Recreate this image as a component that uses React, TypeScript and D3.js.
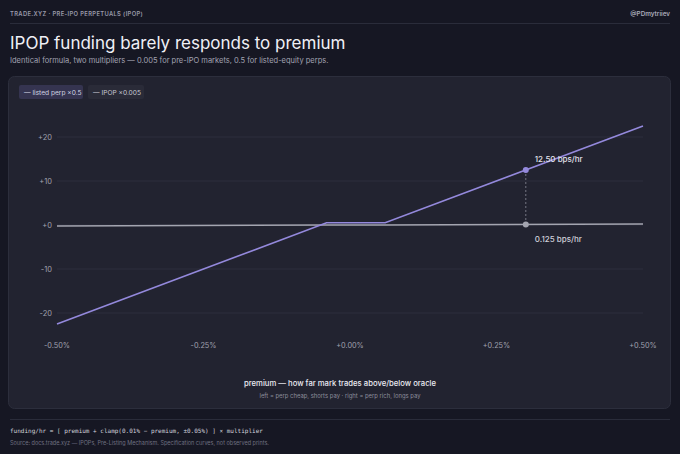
import * as d3 from "d3";

// premium in %, funding in bps/hr
const premium = [-0.5, -0.04, 0.06, 0.5];
const listedFunding = [-22.5, 0.5, 0.5, 22.5];
const ipopFunding = [-0.225, 0.005, 0.005, 0.225];

const xTicks = [-0.5, -0.25, 0, 0.25, 0.5];
const yTicks = [20, 10, 0, -10, -20];

const markerPremium = 0.3;
const markerListed = 12.5;
const markerIpop = 0.125;

const legendItems = ["listed perp ×0.5", "IPOP ×0.005"];

const W = 680;
const H = 454;
const font = "Inter, 'Noto Sans', sans-serif";
const purple = "#9489dc";
const grey = "#a4a5b0";

export default function App() {
  const x = d3.scaleLinear().domain([-0.5, 0.5]).range([57, 643]);
  const y = d3.scaleLinear().domain([-25, 25]).range([335, 115]);

  const line = d3
    .line<number>()
    .x((_, i) => x(premium[i]))
    .y((d) => y(d));

  const fmtX = (v: number) => (v < 0 ? "" : "+") + v.toFixed(2) + "%";
  const fmtY = (v: number) => (v >= 0 ? "+" + v : "" + v);

  return (
    <svg width={W} height={H} style={{ position: "absolute", left: 0, top: 0, fontFamily: font }}>
      <rect width={W} height={H} fill="#161723" />

      {/* header */}
      <text x={10} y={16} fontSize={5.8} fill="#9a9bab" letterSpacing={0.35} fontWeight={600}>
        TRADE.XYZ · PRE-IPO PERPETUALS (IPOP)
      </text>
      <text x={670} y={16} fontSize={6.3} fill="#a8a9b8" textAnchor="end" fontWeight={600}>
        @PDmytriiev
      </text>
      <line x1={10} x2={670} y1={23.5} y2={23.5} stroke="#2a2c3a" />
      <text x={10} y={49} fontSize={17} fill="#f0f0f6" fontWeight={400}>
        IPOP funding barely responds to premium
      </text>
      <text x={10} y={63} fontSize={7.5} fill="#a2a3b2">
        Identical formula, two multipliers — 0.005 for pre-IPO markets, 0.5 for listed-equity perps.
      </text>

      {/* card */}
      <rect x={8.5} y={76.5} width={662} height={332} rx={6} fill="#222330" stroke="#2c2e3c" />

      {/* legend */}
      <rect x={19} y={85} width={64} height={14} rx={2} fill="#353450" />
      <rect x={88} y={85} width={56} height={14} rx={2} fill="#2a2b38" />
      <text x={24} y={94.5} fontSize={6.6} fill="#d4d4e4">
        {"— " + legendItems[0]}
      </text>
      <text x={93} y={94.5} fontSize={6.6} fill="#c8c8d4">
        {"— " + legendItems[1]}
      </text>

      {/* grid */}
      {yTicks.map((t) => (
        <g key={t}>
          <line x1={57} x2={643} y1={y(t)} y2={y(t)} stroke="#2d2f3d" strokeWidth={1} />
          <text x={52} y={y(t) + 2.5} fontSize={7.5} fill="#a0a1ae" textAnchor="end">
            {fmtY(t)}
          </text>
        </g>
      ))}
      {xTicks.map((t) => (
        <text key={t} x={x(t)} y={348} fontSize={7.3} fill="#a0a1ae" textAnchor="middle">
          {fmtX(t)}
        </text>
      ))}

      {/* series */}
      <path d={line(ipopFunding) || ""} fill="none" stroke={grey} strokeWidth={1.6} />
      <path d={line(listedFunding) || ""} fill="none" stroke={purple} strokeWidth={1.6} />

      {/* marker */}
      <line
        x1={x(markerPremium)}
        x2={x(markerPremium)}
        y1={y(markerListed)}
        y2={y(markerIpop)}
        stroke="#8a8b98"
        strokeWidth={0.8}
        strokeDasharray="2,2"
      />
      <circle cx={x(markerPremium)} cy={y(markerListed)} r={3} fill={purple} />
      <circle cx={x(markerPremium)} cy={y(markerIpop)} r={3} fill={grey} />
      <text x={x(markerPremium) + 9} y={y(markerListed) - 8} fontSize={8} fill="#e2e2ec" fontWeight={500}>
        {markerListed.toFixed(2)} bps/hr
      </text>
      <text x={x(markerPremium) + 9} y={y(markerIpop) + 18} fontSize={8} fill="#cfcfda" fontWeight={500}>
        {markerIpop.toFixed(3)} bps/hr
      </text>

      {/* axis title */}
      <text x={340} y={386} fontSize={7.7} fill="#ececf3" textAnchor="middle" fontWeight={500}>
        premium — how far mark trades above/below oracle
      </text>
      <text x={340} y={398} fontSize={5.9} fill="#8c8d9b" textAnchor="middle">
        left = perp cheap, shorts pay · right = perp rich, longs pay
      </text>

      {/* footer */}
      <line x1={10} x2={670} y1={419.5} y2={419.5} stroke="#2a2c3a" />
      <text x={10} y={432.5} fontSize={6} fill="#d2d2dc" fontFamily="'DejaVu Sans Mono', monospace">
        funding/hr = [ premium + clamp(0.01% − premium, ±0.05%) ] × multiplier
      </text>
      <text x={10} y={445} fontSize={5.5} fill="#6f7081">
        Source: docs.trade.xyz — IPOPs, Pre-Listing Mechanism. Specification curves, not observed prints.
      </text>
    </svg>
  );
}
